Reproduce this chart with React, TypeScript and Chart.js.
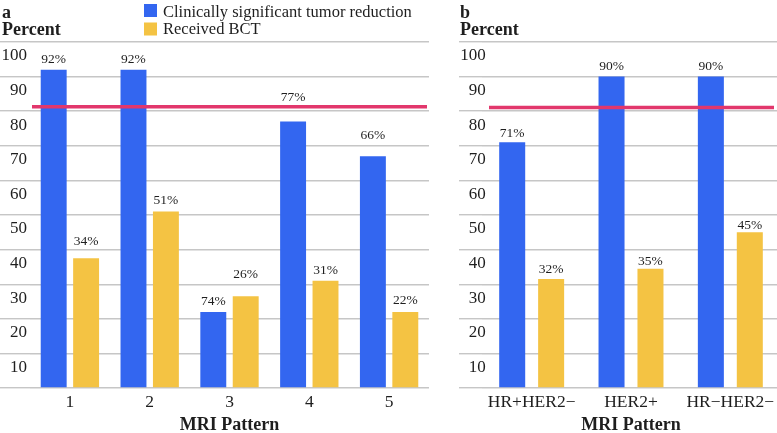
import React, { useEffect, useRef } from 'react';
import { Chart, registerables } from 'chart.js';

Chart.register(...registerables);

// ---------- data ----------
const patternCategories = ['1', '2', '3', '4', '5'];
const reductionA = [92, 92, 22, 77, 67];
const bctA = [37.5, 51, 26.5, 31, 22];
const reductionLabelsA = ['92%', '92%', '74%', '77%', '66%'];
const bctLabelsA = ['34%', '51%', '26%', '31%', '22%'];
const reductionLabelAtA = [95, 95, 25, 84, 73];
const bctLabelAtA = [42.3, 54.3, 32.7, 33.9, 25.2];
const thresholdA = 81.3;

const subtypeCategories = ['HR+HER2\u2212', 'HER2+', 'HR\u2212HER2\u2212'];
const reductionB = [71, 90, 90];
const bctB = [31.5, 34.5, 45];
const reductionLabelsB = ['71%', '90%', '90%'];
const bctLabelsB = ['32%', '35%', '45%'];
const reductionLabelAtB = [73.7, 93, 93];
const bctLabelAtB = [34.3, 36.7, 47.1];
const thresholdB = 81.1;

const seriesNames = ['Clinically significant tumor reduction', 'Received BCT'];
const yTitle = 'Percent';
const xTitle = 'MRI Pattern';

// ---------- styles ----------
const BLUE = '#3366f0';
const YELLOW = '#f4c343';
const RED = '#e2376c';
const GRID = '#c6c6c6';
const TEXT = '#1e1e1e';
const FAMILY = '"Liberation Serif", "Times New Roman", serif';

type Spec = {
  categories: string[];
  reduction: number[];
  bct: number[];
  reductionLabels: string[];
  bctLabels: string[];
  reductionLabelAt: number[];
  bctLabelAt: number[];
  threshold: number;
  letter: string;
  titleX: number;
  axisWidth: number;
  tickLen: number;
  tickPad: number;
  catPct: number;
  barPct: number;
  lineInsetL: number;
  lineInsetR: number;
  legend: boolean;
};

function makeExtras(spec: Spec) {
  return {
    id: 'extras',
    afterDatasetsDraw(chart: any) {
      const ctx = chart.ctx;
      const y = chart.scales.y;
      const area = chart.chartArea;
      ctx.save();
      const ty = y.getPixelForValue(spec.threshold);
      ctx.strokeStyle = RED;
      ctx.lineWidth = 3.5;
      ctx.beginPath();
      ctx.moveTo(area.left + spec.lineInsetL, ty);
      ctx.lineTo(area.right - spec.lineInsetR, ty);
      ctx.stroke();

      ctx.font = `13.5px ${FAMILY}`;
      ctx.fillStyle = TEXT;
      ctx.textAlign = 'center';
      ctx.textBaseline = 'middle';
      const groups: [string[], number[]][] = [
        [spec.reductionLabels, spec.reductionLabelAt],
        [spec.bctLabels, spec.bctLabelAt],
      ];
      groups.forEach(([texts, at], di) => {
        const meta = chart.getDatasetMeta(di);
        meta.data.forEach((el: any, i: number) => {
          ctx.fillText(texts[i], el.x, y.getPixelForValue(at[i]));
        });
      });
      ctx.restore();
    },
    afterDraw(chart: any) {
      const ctx = chart.ctx;
      ctx.save();
      ctx.fillStyle = TEXT;
      ctx.textAlign = 'left';
      ctx.textBaseline = 'alphabetic';
      ctx.font = `bold 18px ${FAMILY}`;
      ctx.fillText(spec.letter, spec.titleX, 17.5);
      ctx.fillText(yTitle, spec.titleX, 35);
      if (spec.legend) {
        const colors = [BLUE, YELLOW];
        const tops = [4, 22.5];
        const bases = [16.5, 34];
        ctx.font = `16.5px ${FAMILY}`;
        seriesNames.forEach((name, i) => {
          ctx.fillStyle = colors[i];
          ctx.fillRect(144, tops[i], 13, 13);
          ctx.fillStyle = TEXT;
          ctx.fillText(name, 163, bases[i]);
        });
      }
      ctx.restore();
    },
  };
}

function makeConfig(spec: Spec): any {
  return {
    type: 'bar',
    data: {
      labels: spec.categories,
      datasets: [
        {
          label: seriesNames[0],
          data: spec.reduction,
          backgroundColor: BLUE,
          borderWidth: 0,
          categoryPercentage: spec.catPct,
          barPercentage: spec.barPct,
        },
        {
          label: seriesNames[1],
          data: spec.bct,
          backgroundColor: YELLOW,
          borderWidth: 0,
          categoryPercentage: spec.catPct,
          barPercentage: spec.barPct,
        },
      ],
    },
    options: {
      responsive: false,
      animation: false,
      devicePixelRatio: 1,
      layout: { padding: { top: 42, left: 0, right: 0, bottom: 0 } },
      plugins: { legend: { display: false }, tooltip: { enabled: false } },
      scales: {
        x: {
          grid: { display: false, drawTicks: false },
          border: { display: false },
          ticks: { color: TEXT, font: { family: FAMILY, size: 17.5 }, padding: 4, maxRotation: 0 },
          title: {
            display: true,
            text: xTitle,
            color: TEXT,
            font: { family: FAMILY, size: 18, weight: 'bold', lineHeight: 0.8 },
            padding: { top: 0, bottom: 0 },
          },
          afterFit(scale: any) {
            scale.height = 45;
          },
        },
        y: {
          min: 0,
          max: 100,
          border: { display: false },
          grid: { color: GRID, lineWidth: 1.4, drawTicks: true, tickLength: spec.tickLen, tickColor: GRID },
          ticks: {
            stepSize: 10,
            color: TEXT,
            font: { family: FAMILY, size: 17 },
            mirror: true,
            crossAlign: 'far',
            padding: spec.tickPad,
            labelOffset: 14,
            callback: (v: number) => (v === 0 ? '' : String(v)),
          },
          afterFit(scale: any) {
            scale.width = spec.axisWidth;
          },
        },
      },
    },
    plugins: [makeExtras(spec)],
  };
}

const specA: Spec = {
  categories: patternCategories,
  reduction: reductionA,
  bct: bctA,
  reductionLabels: reductionLabelsA,
  bctLabels: bctLabelsA,
  reductionLabelAt: reductionLabelAtA,
  bctLabelAt: bctLabelAtA,
  threshold: thresholdA,
  letter: 'a',
  titleX: 2,
  axisWidth: 30,
  tickLen: 30,
  tickPad: -28.5,
  catPct: 0.8125,
  barPct: 0.8,
  lineInsetL: 2,
  lineInsetR: 2,
  legend: true,
};

const specB: Spec = {
  categories: subtypeCategories,
  reduction: reductionB,
  bct: bctB,
  reductionLabels: reductionLabelsB,
  bctLabels: bctLabelsB,
  reductionLabelAt: reductionLabelAtB,
  bctLabelAt: bctLabelAtB,
  threshold: thresholdB,
  letter: 'b',
  titleX: 30,
  axisWidth: 52,
  tickLen: 23,
  tickPad: -21.8,
  catPct: 0.784,
  barPct: 0.668,
  lineInsetL: 7,
  lineInsetR: 6,
  legend: false,
};

function Panel({ spec, left, width }: { spec: Spec; left: number; width: number }) {
  const ref = useRef<HTMLCanvasElement | null>(null);
  useEffect(() => {
    if (!ref.current) return;
    const chart = new Chart(ref.current, makeConfig(spec));
    return () => chart.destroy();
  }, [spec]);
  return (
    <canvas
      ref={ref}
      width={width}
      height={433}
      style={{ position: 'absolute', left, top: 0, width, height: 433, display: 'block' }}
    />
  );
}

export default function App() {
  return (
    <div
      style={{
        position: 'fixed',
        left: 0,
        top: 0,
        width: 777,
        height: 433,
        overflow: 'hidden',
        background: '#ffffff',
      }}
    >
      <Panel spec={specA} left={0} width={429} />
      <Panel spec={specB} left={430} width={350} />
    </div>
  );
}
